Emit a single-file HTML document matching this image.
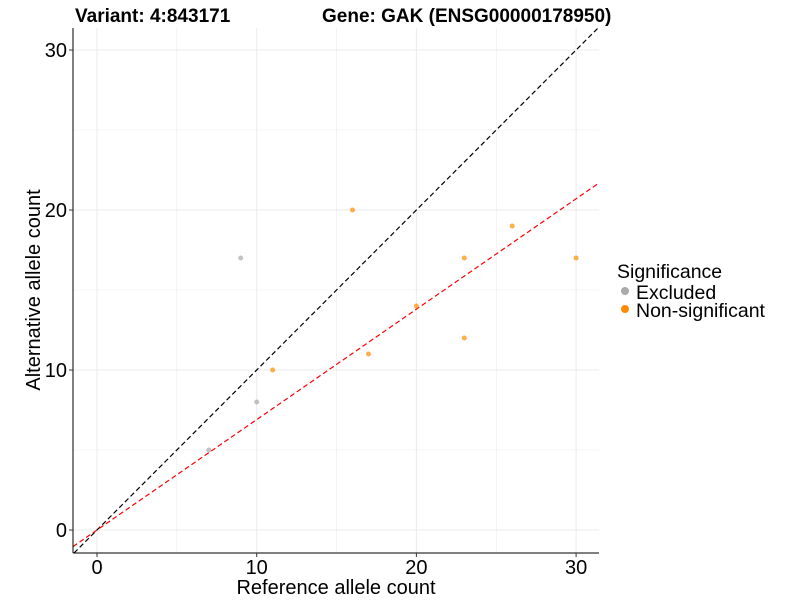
<!DOCTYPE html>
<html><head><meta charset="utf-8"><style>
body{margin:0;background:#fff;font-family:"Liberation Sans",sans-serif}
</style></head><body>
<svg id="chart" width="800" height="600" xmlns="http://www.w3.org/2000/svg">
<g id="grid"></g>
<g id="lines"></g>
<g id="pts"></g>
<g id="axes"></g>
<text x="75" y="22" font-size="19" font-weight="bold">Variant: 4:843171</text>
<text x="322" y="22" font-size="19" font-weight="bold">Gene: GAK (ENSG00000178950)</text>
<text x="336" y="594" font-size="20" text-anchor="middle">Reference allele count</text>
<text transform="translate(40,290) rotate(-90)" font-size="20" text-anchor="middle">Alternative allele count</text>
<g>
<text x="617" y="278" font-size="19.5">Significance</text>
<circle cx="625" cy="291" r="4" fill="#aaaaaa"/>
<text x="636" y="299" font-size="19.5">Excluded</text>
<circle cx="625" cy="309" r="4" fill="#ff8c00"/>
<text x="636" y="317" font-size="19.5">Non-significant</text>
</g>
</svg>
<script>
const excludedX=[9,10,7];
const excludedY=[17,8,5];
const nonsigX=[16,11,17,20,23,23,26,30];
const nonsigY=[20,10,11,14,17,12,19,17];
const xTicks=[0,10,20,30];
const yTicks=[0,10,20,30];
const fitSlope=0.69, fitIntercept=0;
const X0=73,X1=599,Y0=28,Y1=553;
const sx=v=>97+v*15.97, sy=v=>530-v*16;
const xmin=(X0-97)/15.97, xmax=(X1-97)/15.97;
const NS="http://www.w3.org/2000/svg";
function mk(p,t,a){const e=document.createElementNS(NS,t);for(const k in a)e.setAttribute(k,a[k]);document.getElementById(p).appendChild(e);return e;}
for(let v=-5;v<=35;v+=5){const x=sx(v);if(x>X0&&x<X1){const l=mk('grid','line',{x1:x,x2:x,y1:Y0,y2:Y1,stroke:'#ebebeb','stroke-width':v%10==0?1:0.6});

}
const y=sy(v);if(y>Y0&&y<Y1){const l=mk('grid','line',{x1:X0,x2:X1,y1:y,y2:y,stroke:'#ebebeb','stroke-width':v%10==0?1:0.6});

}}
let a=Math.max(xmin,(Y1-530)/-16), b=Math.min(xmax,(530-Y0)/16);
let idl=mk('lines','line',{x1:sx(a),y1:sy(a),x2:sx(b),y2:sy(b),stroke:'#000','stroke-dasharray':'5,3','stroke-width':1.2});


let fl=mk('lines','line',{x1:sx(xmin),y1:sy(fitIntercept+fitSlope*xmin),x2:sx(xmax),y2:sy(fitIntercept+fitSlope*xmax),stroke:'#ff0000','stroke-dasharray':'5,3','stroke-width':1.2});


excludedX.forEach((x,i)=>{const c=mk('pts','circle',{cx:sx(x),cy:sy(excludedY[i]),r:2.5,fill:'#aaaaaa','fill-opacity':0.7});

});
nonsigX.forEach((x,i)=>{const c=mk('pts','circle',{cx:sx(x),cy:sy(nonsigY[i]),r:2.5,fill:'#ff8c00','fill-opacity':0.7});

});
let ax=mk('axes','line',{x1:X0,x2:X0,y1:Y0,y2:Y1,stroke:'#000','stroke-width':1});


let ay=mk('axes','line',{x1:X0,x2:X1,y1:Y1,y2:Y1,stroke:'#000','stroke-width':1});


xTicks.forEach(v=>{const x=sx(v);const t=mk('axes','line',{x1:x,x2:x,y1:Y1,y2:Y1+4,stroke:'#333'});


const tx=mk('axes','text',{x:x,y:Y1+21,'font-size':20,'text-anchor':'middle',fill:'#000'});tx.textContent=v;

});
yTicks.forEach(v=>{const y=sy(v);const t=mk('axes','line',{x1:X0-4,x2:X0,y1:y,y2:y,stroke:'#333'});


const tx=mk('axes','text',{x:X0-6,y:y+7,'font-size':20,'text-anchor':'end',fill:'#000'});tx.textContent=v;

});
</script>
</body></html>
